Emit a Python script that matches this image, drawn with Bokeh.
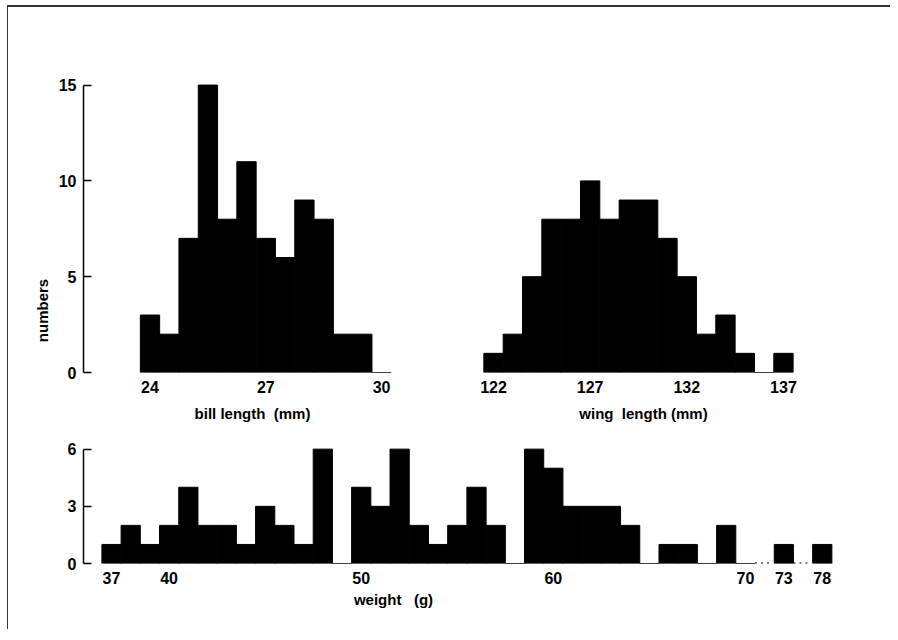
import math
from bokeh.plotting import figure
from bokeh.layouts import column, row
from bokeh.models import Range1d, FixedTicker, ColumnDataSource, LinearAxis
from bokeh.embed import file_html
from bokeh.resources import INLINE

# ---------------- data ----------------
bill_centers = [24.0, 24.5, 25.0, 25.5, 26.0, 26.5, 27.0, 27.5, 28.0, 28.5, 29.0, 29.5, 30.0]
bill_counts = [3, 2, 7, 15, 8, 11, 7, 6, 9, 8, 2, 2, 0]
bill_bin_width = 0.5
bill_ticks = [24, 27, 30]

wing_centers = [122, 123, 124, 125, 126, 127, 128, 129, 130, 131, 132, 133, 134, 135, 136, 137]
wing_counts = [1, 2, 5, 8, 8, 10, 8, 9, 9, 7, 5, 2, 3, 1, 0, 1]
wing_bin_width = 1.0
wing_ticks = [122, 127, 132, 137]

weight_values = [37, 38, 39, 40, 41, 42, 43, 44, 45, 46, 47, 48, 49, 50, 51, 52, 53, 54,
                 55, 56, 57, 58, 59, 60, 61, 62, 63, 64, 65, 66, 67, 68, 69, 70, 73, 78]
weight_counts = [1, 2, 1, 2, 4, 2, 2, 1, 3, 2, 1, 6, 0, 4, 3, 6, 2, 1,
                 2, 4, 2, 0, 6, 5, 3, 3, 3, 2, 0, 1, 1, 0, 2, 0, 1, 1]
weight_bin_width = 1.0
weight_ticks = [37, 40, 50, 60, 70, 73, 78]
weight_break = 70          # axis is broken after this value
y_ticks_top = [0, 5, 10, 15]
y_ticks_bottom = [0, 3, 6]

FONT = "Liberation Sans"
TXT = "#000000"
TICK_FS = "16px"
TITLE_FS = "15px"

# broken axis for weight: values beyond the break are spaced 2 units apart
_after = [w for w in weight_values if w > weight_break]
def wpos(w):
    if w <= weight_break:
        return w
    return weight_break + 2 * (_after.index(w) + 1)

weight_pos = [wpos(w) for w in weight_values]
weight_tick_pos = [wpos(w) for w in weight_ticks]


def base_fig(w, h, xr, yr, ml, mr, mt, mb):
    p = figure(width=w, height=h, x_range=xr, y_range=yr, output_backend="svg",
               toolbar_location=None, min_border_left=ml, min_border_right=mr,
               min_border_top=mt, min_border_bottom=mb)
    p.xgrid.visible = False
    p.ygrid.visible = False
    p.outline_line_color = None
    p.background_fill_color = "white"
    p.border_fill_color = "white"
    return p


def plain_axis(ax, ticks, standoff, fs, overrides=None):
    ax.ticker = FixedTicker(ticks=ticks)
    ax.axis_line_color = None
    ax.major_tick_line_color = None
    ax.minor_tick_line_color = None
    ax.major_tick_in = 0
    ax.major_tick_out = 0
    ax.major_label_standoff = standoff
    ax.major_label_text_font = FONT
    ax.major_label_text_font_style = "bold"
    ax.major_label_text_font_size = fs
    ax.major_label_text_color = TXT
    if overrides:
        ax.major_label_overrides = overrides


def style_yaxis(p, ticks, bounds):
    ax = p.yaxis[0]
    ax.ticker = FixedTicker(ticks=ticks)
    ax.bounds = bounds
    ax.axis_line_color = "black"
    ax.axis_line_width = 1.5
    ax.major_tick_line_color = "black"
    ax.major_tick_line_width = 1.5
    ax.minor_tick_line_color = None
    ax.major_tick_in = 8
    ax.major_tick_out = 0
    ax.major_label_standoff = 7
    ax.major_label_text_font = FONT
    ax.major_label_text_font_style = "bold"
    ax.major_label_text_font_size = TICK_FS
    ax.major_label_text_color = TXT


def bars(p, centers, counts, width):
    src = ColumnDataSource(dict(
        left=[c - width / 2 for c in centers],
        right=[c + width / 2 for c in centers],
        top=counts,
        bottom=[0] * len(counts)))
    p.quad(left="left", right="right", top="top", bottom="bottom", source=src,
           fill_color="black", line_color="black", line_width=1)


def x_title(p, text, pos, standoff):
    ax = LinearAxis()
    pos = round(pos, 3)
    plain_axis(ax, [pos], standoff, TITLE_FS, {pos: text})
    p.add_layout(ax, "below")


def y_title(p, text, pos, standoff):
    ax = LinearAxis()
    pos = round(pos, 3)
    plain_axis(ax, [pos], standoff, TITLE_FS, {pos: text})
    ax.major_label_orientation = "vertical"
    p.add_layout(ax, "left")


# ---------------- top-left: bill length ----------------
Y_TOP_END = 15.5
FR1_W, FR1_H = 312, 297
sx1 = 38.6
x1_start = 24 - 66.5 / sx1
p1 = base_fig(422, 422, Range1d(x1_start, x1_start + FR1_W / sx1), Range1d(0, Y_TOP_END),
              75, 35, 68, 57)
sy1 = FR1_H / Y_TOP_END
bars(p1, bill_centers, bill_counts, bill_bin_width)
plain_axis(p1.xaxis[0], bill_ticks, 8, TICK_FS)
style_yaxis(p1, y_ticks_top, (0, 15))
x_title(p1, "bill length\u00a0\u00a0(mm)", x1_start + (252 - 83) / sx1, 9)
y_title(p1, "numbers", (373 - 311) / sy1, 4)

# ---------------- top-right: wing length ----------------
FR2_W = 330
sx2 = 19.33
x2_start = 122 - (493 - 470) / sx2
p2 = base_fig(460, 422, Range1d(x2_start, x2_start + FR2_W / sx2), Range1d(0, Y_TOP_END),
              40, 90, 68, 57)
bars(p2, wing_centers, wing_counts, wing_bin_width)
plain_axis(p2.xaxis[0], wing_ticks, 8, TICK_FS)
p2.yaxis.visible = False
x_title(p2, "wing\u00a0 length (mm)", x2_start + (643 - 470) / sx2, 9)

# ---------------- bottom: weight ----------------
Y_BOT_END = 6.4
FR3_W, FR3_H = 767, 122
sx3 = 19.21
x3_start = 37 - (111 - 83) / sx3
p3 = base_fig(882, 200, Range1d(x3_start, x3_start + FR3_W / sx3), Range1d(0, Y_BOT_END),
              75, 40, 12, 66)
bars(p3, weight_pos, weight_counts, weight_bin_width)
plain_axis(p3.xaxis[0], weight_tick_pos, 8, TICK_FS,
           {wpos(w): str(w) for w in weight_ticks if w > weight_break})
style_yaxis(p3, y_ticks_bottom, (0, 6))
# dotted gaps marking the axis break
for a in [weight_break] + _after[:-1]:
    pa = wpos(a)
    p3.line([pa + 0.5, pa + 1.4], [0, 0], line_color="black", line_width=2, line_dash="2 4")
x_title(p3, "weight\u00a0\u00a0\u00a0(g)", x3_start + (393 - 83) / sx3, 4)

layout = column(row(p1, p2), p3,
                styles={"border-top": "2px solid #333", "border-left": "1px solid #333",
                        "margin-left": "7px", "margin-top": "5px"})

open("out.html", "w").write(file_html(layout, INLINE))
